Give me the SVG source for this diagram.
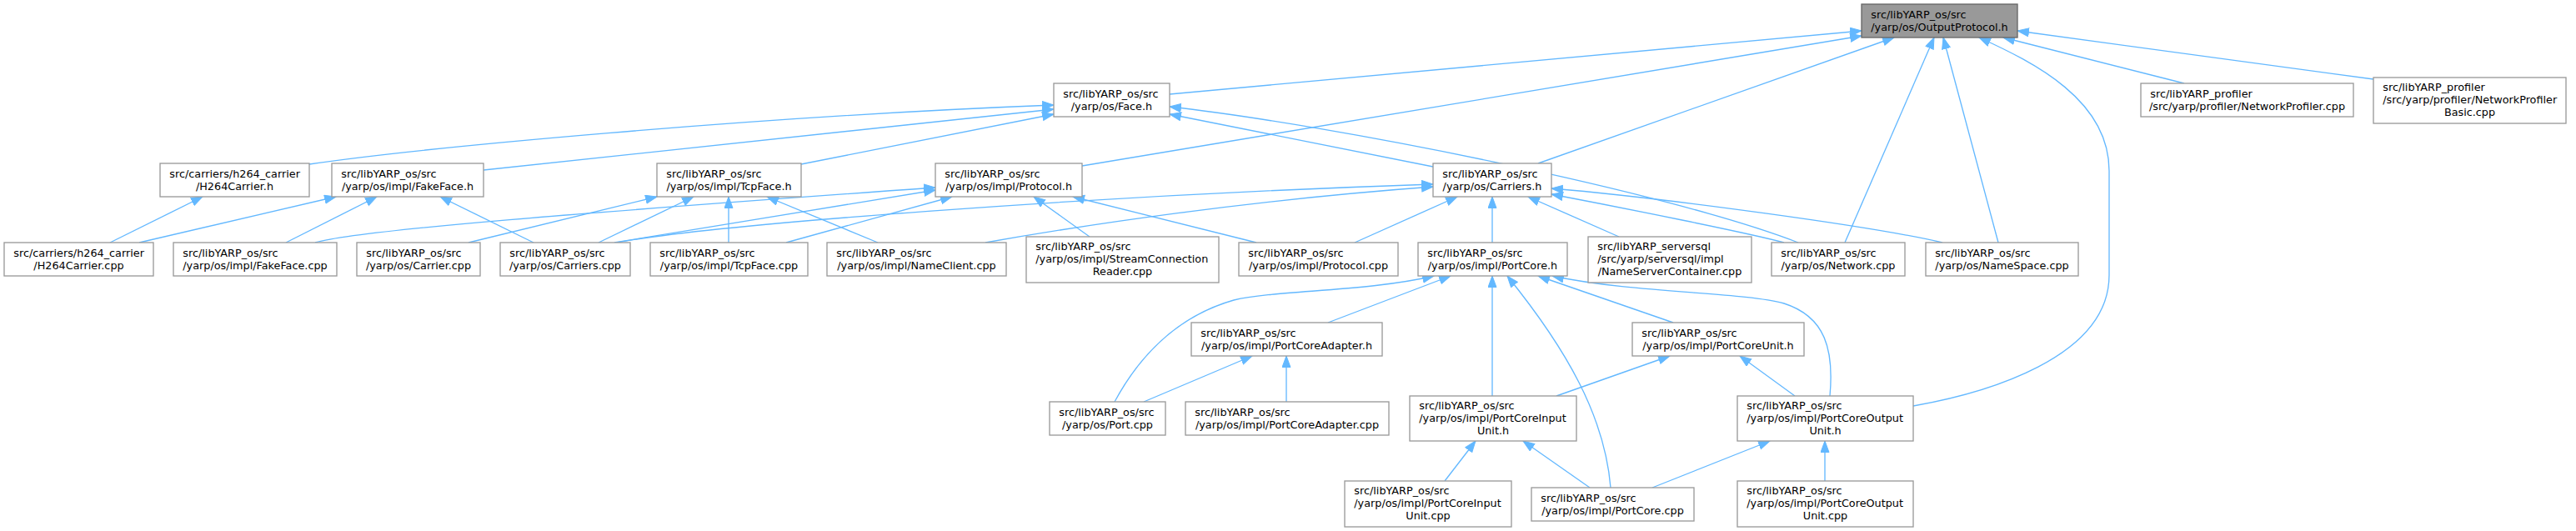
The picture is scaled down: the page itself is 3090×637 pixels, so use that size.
<svg xmlns="http://www.w3.org/2000/svg" width="3090" height="637" viewBox="0 0 3090 637">
<style>
.n rect{fill:#ffffff;stroke:#999999;stroke-width:1.33}
.root rect{fill:#999999;stroke:#666666;stroke-width:1.33}
text{font-family:"DejaVu Sans","Liberation Sans",sans-serif;font-size:12.8px;fill:#000000}
.m{text-anchor:middle}
#edges path{fill:none;stroke:#63b8ff;stroke-width:1.33;marker-end:url(#arr)}
</style>
<defs>
<marker id="arr" markerUnits="userSpaceOnUse" markerWidth="16" markerHeight="12" refX="14" refY="5.5" orient="auto">
<path d="M0.5,0.5 L14,5.5 L0.5,10.5 Z" fill="#63b8ff" stroke="#63b8ff" stroke-width="1"/>
</marker>
</defs>
<rect width="3090" height="637" fill="#ffffff"/>
<g id="edges">
<path d="M1403,113 L2233,37"/>
<path d="M1298,199 L2233,43"/>
<path d="M1845,196 L2272,45"/>
<path d="M2213,291 L2320,45"/>
<path d="M2397,291 L2331,45"/>
<path d="M2295,487 C2380,472 2530,430 2530,330 L2530,205 C2530,120 2440,75 2374,45"/>
<path d="M2620,100 L2403,45"/>
<path d="M2847,95 L2420,37"/>
<path d="M371,197 C500,178 900,140 1264,126"/>
<path d="M580,204 L1264,131"/>
<path d="M961,197 L1264,137"/>
<path d="M1719,200 L1403,137"/>
<path d="M2157,291 C2000,230 1600,150 1403,128"/>
<path d="M2330,291 C2250,272 2000,238 1861,226"/>
<path d="M2140,291 C2100,280 1950,250 1861,233"/>
<path d="M1182,291 C1300,270 1500,240 1719,224"/>
<path d="M740,291 C850,270 1300,235 1719,221"/>
<path d="M737,291 L1122,228"/>
<path d="M378,291 C430,276 700,255 1122,225"/>
<path d="M943,291 L1142,236"/>
<path d="M1307,284 L1240,236"/>
<path d="M1507,291 L1287,236"/>
<path d="M562,291 L788,236"/>
<path d="M718,291 L832,236"/>
<path d="M874,291 L874,236"/>
<path d="M1053,291 L920,236"/>
<path d="M167,291 L403,236"/>
<path d="M343,291 L452,236"/>
<path d="M640,291 L528,236"/>
<path d="M132,291 L243,236"/>
<path d="M1625,291 L1748,236"/>
<path d="M1790,291 L1790,236"/>
<path d="M1942,284 L1833,236"/>
<path d="M1337,482 C1365,430 1410,380 1480,360 C1530,348 1640,350 1720,331"/>
<path d="M1593,387 L1740,331"/>
<path d="M1790,475 L1790,331"/>
<path d="M1932,585 C1925,500 1880,420 1808,331"/>
<path d="M2007,387 L1845,331"/>
<path d="M2195,475 C2200,420 2190,380 2140,364 C2090,350 1960,352 1862,331"/>
<path d="M1543,482 L1543,427"/>
<path d="M1372,482 L1502,427"/>
<path d="M1867,475 L2003,427"/>
<path d="M2153,475 L2087,427"/>
<path d="M1733,577 L1770,529"/>
<path d="M1907,585 L1827,529"/>
<path d="M1982,585 L2123,529"/>
<path d="M2189,577 L2189,529"/>
</g>
<g id="n0" class="root"><rect x="2233" y="5" width="187" height="40"/><text x="2244.3" y="21.5">src/libYARP_os/src</text><text class="m" x="2326.5" y="36.5">/yarp/os/OutputProtocol.h</text></g>
<g id="n1" class="n"><rect x="1264" y="100" width="139" height="40"/><text x="1275.3" y="116.5">src/libYARP_os/src</text><text class="m" x="1333.5" y="131.5">/yarp/os/Face.h</text></g>
<g id="n2" class="n"><rect x="192" y="196" width="179" height="40"/><text x="203.3" y="212.5">src/carriers/h264_carrier</text><text class="m" x="281.5" y="227.5">/H264Carrier.h</text></g>
<g id="n3" class="n"><rect x="5" y="291" width="179" height="40"/><text x="16.3" y="307.5">src/carriers/h264_carrier</text><text class="m" x="94.5" y="322.5">/H264Carrier.cpp</text></g>
<g id="n4" class="n"><rect x="398" y="196" width="182" height="40"/><text x="409.3" y="212.5">src/libYARP_os/src</text><text class="m" x="489" y="227.5">/yarp/os/impl/FakeFace.h</text></g>
<g id="n5" class="n"><rect x="208" y="291" width="196" height="40"/><text x="219.3" y="307.5">src/libYARP_os/src</text><text class="m" x="306" y="322.5">/yarp/os/impl/FakeFace.cpp</text></g>
<g id="n6" class="n"><rect x="428" y="291" width="148" height="40"/><text x="439.3" y="307.5">src/libYARP_os/src</text><text class="m" x="502" y="322.5">/yarp/os/Carrier.cpp</text></g>
<g id="n7" class="n"><rect x="788" y="196" width="173" height="40"/><text x="799.3" y="212.5">src/libYARP_os/src</text><text class="m" x="874.5" y="227.5">/yarp/os/impl/TcpFace.h</text></g>
<g id="n8" class="n"><rect x="600" y="291" width="156" height="40"/><text x="611.3" y="307.5">src/libYARP_os/src</text><text class="m" x="678" y="322.5">/yarp/os/Carriers.cpp</text></g>
<g id="n9" class="n"><rect x="780" y="291" width="189" height="40"/><text x="791.3" y="307.5">src/libYARP_os/src</text><text class="m" x="874.5" y="322.5">/yarp/os/impl/TcpFace.cpp</text></g>
<g id="n10" class="n"><rect x="992" y="291" width="215" height="40"/><text x="1003.3" y="307.5">src/libYARP_os/src</text><text class="m" x="1099.5" y="322.5">/yarp/os/impl/NameClient.cpp</text></g>
<g id="n11" class="n"><rect x="1122" y="196" width="176" height="40"/><text x="1133.3" y="212.5">src/libYARP_os/src</text><text class="m" x="1210" y="227.5">/yarp/os/impl/Protocol.h</text></g>
<g id="n12" class="n"><rect x="1231" y="284" width="231" height="55"/><text x="1242.3" y="299.7">src/libYARP_os/src</text><text x="1242.3" y="314.7">/yarp/os/impl/StreamConnection</text><text class="m" x="1346.5" y="329.7">Reader.cpp</text></g>
<g id="n13" class="n"><rect x="1486" y="291" width="191" height="40"/><text x="1497.3" y="307.5">src/libYARP_os/src</text><text class="m" x="1581.5" y="322.5">/yarp/os/impl/Protocol.cpp</text></g>
<g id="n14" class="n"><rect x="1719" y="196" width="142" height="40"/><text x="1730.3" y="212.5">src/libYARP_os/src</text><text class="m" x="1790" y="227.5">/yarp/os/Carriers.h</text></g>
<g id="n15" class="n"><rect x="1701" y="291" width="179" height="40"/><text x="1712.3" y="307.5">src/libYARP_os/src</text><text class="m" x="1790.5" y="322.5">/yarp/os/impl/PortCore.h</text></g>
<g id="n16" class="n"><rect x="1905" y="284" width="196" height="55"/><text x="1916.3" y="299.7">src/libYARP_serversql</text><text x="1916.3" y="314.7">/src/yarp/serversql/impl</text><text class="m" x="2003" y="329.7">/NameServerContainer.cpp</text></g>
<g id="n17" class="n"><rect x="2125" y="291" width="160" height="40"/><text x="2136.3" y="307.5">src/libYARP_os/src</text><text class="m" x="2205" y="322.5">/yarp/os/Network.cpp</text></g>
<g id="n18" class="n"><rect x="2310" y="291" width="183" height="40"/><text x="2321.3" y="307.5">src/libYARP_os/src</text><text class="m" x="2401.5" y="322.5">/yarp/os/NameSpace.cpp</text></g>
<g id="n19" class="n"><rect x="2568" y="100" width="255" height="40"/><text x="2579.3" y="116.5">src/libYARP_profiler</text><text class="m" x="2695.5" y="131.5">/src/yarp/profiler/NetworkProfiler.cpp</text></g>
<g id="n20" class="n"><rect x="2847" y="93" width="231" height="55"/><text x="2858.3" y="108.7">src/libYARP_profiler</text><text x="2858.3" y="123.7">/src/yarp/profiler/NetworkProfiler</text><text class="m" x="2962.5" y="138.7">Basic.cpp</text></g>
<g id="n21" class="n"><rect x="1259" y="482" width="139" height="40"/><text x="1270.3" y="498.5">src/libYARP_os/src</text><text class="m" x="1328.5" y="513.5">/yarp/os/Port.cpp</text></g>
<g id="n22" class="n"><rect x="1429" y="387" width="229" height="40"/><text x="1440.3" y="403.5">src/libYARP_os/src</text><text class="m" x="1543.5" y="418.5">/yarp/os/impl/PortCoreAdapter.h</text></g>
<g id="n23" class="n"><rect x="1422" y="482" width="244" height="40"/><text x="1433.3" y="498.5">src/libYARP_os/src</text><text class="m" x="1544" y="513.5">/yarp/os/impl/PortCoreAdapter.cpp</text></g>
<g id="n24" class="n"><rect x="1958" y="387" width="206" height="40"/><text x="1969.3" y="403.5">src/libYARP_os/src</text><text class="m" x="2061" y="418.5">/yarp/os/impl/PortCoreUnit.h</text></g>
<g id="n25" class="n"><rect x="1691" y="475" width="200" height="54"/><text x="1702.3" y="490.7">src/libYARP_os/src</text><text x="1702.3" y="505.7">/yarp/os/impl/PortCoreInput</text><text class="m" x="1791" y="520.7">Unit.h</text></g>
<g id="n26" class="n"><rect x="1613" y="577" width="200" height="55"/><text x="1624.3" y="592.7">src/libYARP_os/src</text><text x="1624.3" y="607.7">/yarp/os/impl/PortCoreInput</text><text class="m" x="1713" y="622.7">Unit.cpp</text></g>
<g id="n27" class="n"><rect x="1837" y="585" width="195" height="40"/><text x="1848.3" y="601.5">src/libYARP_os/src</text><text class="m" x="1934.5" y="616.5">/yarp/os/impl/PortCore.cpp</text></g>
<g id="n28" class="n"><rect x="2084" y="475" width="211" height="54"/><text x="2095.3" y="490.7">src/libYARP_os/src</text><text x="2095.3" y="505.7">/yarp/os/impl/PortCoreOutput</text><text class="m" x="2189.5" y="520.7">Unit.h</text></g>
<g id="n29" class="n"><rect x="2084" y="577" width="211" height="55"/><text x="2095.3" y="592.7">src/libYARP_os/src</text><text x="2095.3" y="607.7">/yarp/os/impl/PortCoreOutput</text><text class="m" x="2189.5" y="622.7">Unit.cpp</text></g>
</svg>
